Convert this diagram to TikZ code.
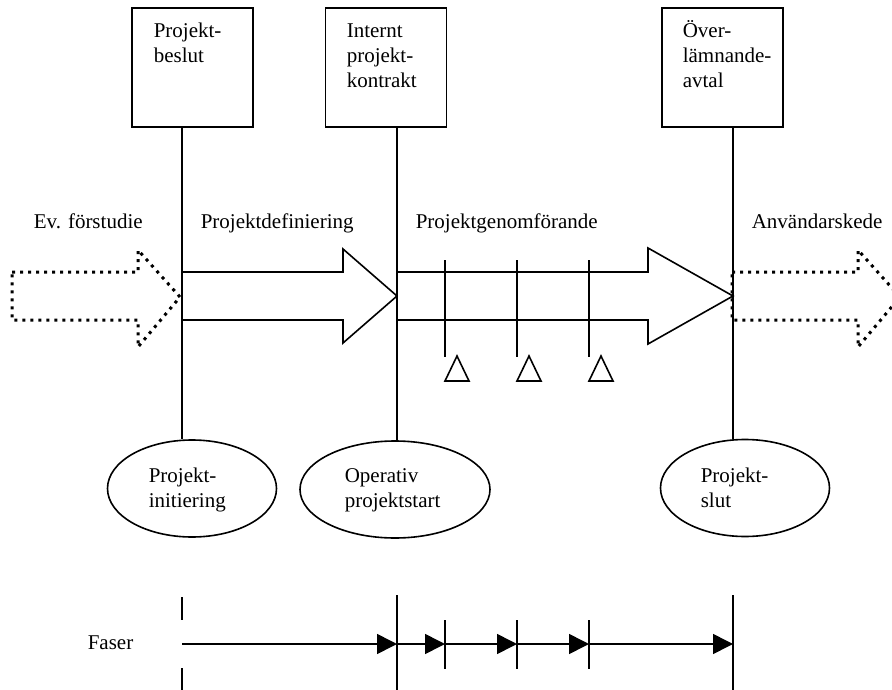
\documentclass[tikz,border=0pt]{standalone}
\usepackage{fontspec}
\setmainfont{Liberation Serif}
\usetikzlibrary{shapes.geometric,arrows.meta}
\begin{document}
\begin{tikzpicture}[x=1pt,y=-1pt,line width=1.6pt,
  txt/.style={inner sep=0pt,font=\fontsize{21}{25}\selectfont,align=left,anchor=base west},
  boxn/.style={draw,rectangle,minimum width=121pt,minimum height=119pt,inner sep=0pt},
  ell/.style={draw,ellipse,inner sep=0pt,minimum height=97pt},
  bigarrow/.style={line join=miter},
  dotarrow/.style={line width=3pt,dash pattern=on 3pt off 5pt,line join=miter},
  phase/.style={-{Triangle[length=20pt,width=20pt]},line width=1.6pt}
]
\useasboundingbox (0,0) rectangle (892,690);

% top boxes
\node[boxn] (b1) at (192.5,67.5) {};
\node[boxn] (b2) at (386,67.5) {};
\node[boxn] (b3) at (722.5,67.5) {};
% (base anchor of a multi-line node = baseline of its last line)
\node[txt] (tb1) at (153,63) {Projekt-\\beslut};
\node[txt] (tb2) at (346,88) {Internt\\projekt-\\kontrakt};
\node[txt] (tb3) at (682,88) {Över-\\lämnande-\\avtal};

% ellipses
\node[ell,minimum width=169pt] (e1) at (192,488.5) {};
\node[ell,minimum width=190pt] (e2) at (395,489.5) {};
\node[ell,minimum width=169pt] (e3) at (745,488) {};
\node[txt] (te1) at (148,507) {Projekt-\\initiering};
\node[txt] (te2) at (344,507) {Operativ\\projektstart};
\node[txt] (te3) at (700,507) {Projekt-\\slut};

% x positions of the main lines
\coordinate (c1) at (182,0);
\coordinate (c2) at (397,0);
\coordinate (c3) at (733,0);
\draw (b1.south -| c1) -- (e1.north -| c1);
\draw (b2.south -| c2) -- (e2.north -| c2);
\draw (b3.south -| c3) -- (e3.north -| c3);

% phase headings
\node[txt] (h1) at (33,229) {Ev. förstudie};
\node[txt] (h2) at (200,229) {Projektdefiniering};
\node[txt] (h3) at (415,229) {Projektgenomförande};
\node[txt] (h4) at (751,229) {Användarskede};

% big arrows
\begin{scope}
\clip (0,0) rectangle (892,690);
\draw[dotarrow] (12,272) -- (138,272) -- (138,250) -- (180,297) -- (138,347) -- (138,320) -- (12,320) -- cycle;
\draw[dotarrow] (732,272) -- (858,272) -- (858,250) -- (900,297) -- (858,347) -- (858,320) -- (732,320) -- cycle;
\end{scope}
\draw[bigarrow] (182,272) -- (343,272) -- (343,249) -- (397,296) -- (343,343) -- (343,320) -- (182,320);
\draw[bigarrow] (397,272) -- (648,272) -- (648,248) -- (733,296) -- (648,344) -- (648,320) -- (397,320);

% milestones
\foreach \x/\n in {445/m1,517/m2,589/m3}{
  \coordinate (\n t) at (\x,260);
  \coordinate (\n b) at (\x,357);
  \draw (\n t) -- (\n b);
  \draw[line join=miter] (\x,381) -- (\x+24,381) -- (\x+12,356) -- cycle;
}

% Faser
\node[txt] (fs) at (87,649) {Faser};
\coordinate (f0) at (182,644);
\coordinate (f1) at (397,644);
\coordinate (f2) at (445,644);
\coordinate (f3) at (517,644);
\coordinate (f4) at (589,644);
\coordinate (f5) at (733,644);
\draw (182,597) -- (182,620);
\draw (182,668) -- (182,690);
\draw (397,595) -- (397,690);
\draw (733,595) -- (733,690);
\foreach \x in {445,517,589}{\draw (\x,620) -- (\x,669);}
\draw[phase] (f0) -- (f1);
\draw[phase] (f1) -- (f2);
\draw[phase] (f2) -- (f3);
\draw[phase] (f3) -- (f4);
\draw[phase] (f4) -- (f5);
\end{tikzpicture}
\end{document}
